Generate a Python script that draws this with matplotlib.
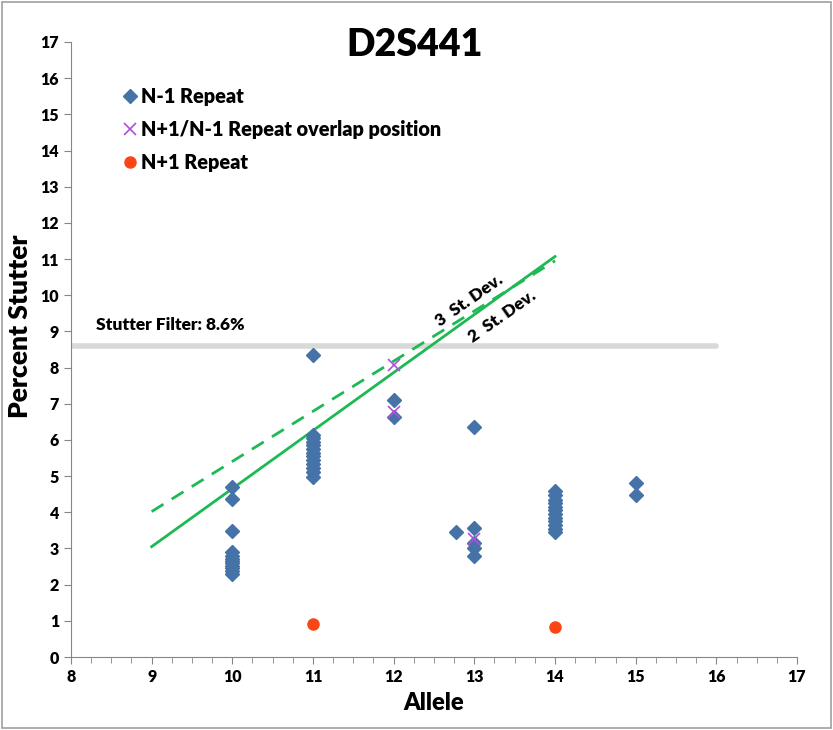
import numpy as np
import matplotlib.pyplot as plt
import matplotlib.ticker as ticker
from matplotlib.patches import Rectangle

plt.rcParams.update({'font.family': ['Lato', 'DejaVu Sans']})
plt.rcParams.update({'font.weight': 'bold'})

# N-1 stutter observations (allele, percent stutter)
n1_allele = [10]*3 + [10]*9 + [11] + [11]*12 + [12, 12] + [12.77] + [13]*5 + [14]*12 + [15, 15]
n1_stutter = [4.7, 4.37, 3.48,
              2.3, 2.38, 2.45, 2.52, 2.6, 2.66, 2.72, 2.8, 2.9,
              8.35,
              4.98, 5.1, 5.22, 5.33, 5.45, 5.55, 5.65, 5.75, 5.85, 5.95, 6.05, 6.14,
              7.1, 6.63,
              3.46,
              6.36, 3.56, 3.15, 3.0, 2.78,
              3.45, 3.55, 3.65, 3.75, 3.85, 3.95, 4.05, 4.15, 4.25, 4.35, 4.47, 4.6,
              4.8, 4.47]

# overlap positions
ov_allele = [12, 12, 13]
ov_stutter = [8.07, 6.77, 3.25]

# N+1 stutter
np1_allele = [11, 14]
np1_stutter = [0.92, 0.82]

# standard deviation lines
sd_x = [9, 14]
sd2_y = [3.05, 11.07]
sd3_y = [4.02, 10.95]

filter_x = [8, 16]
filter_pct = 8.6


def plot_stutter():
  fig = plt.figure(figsize=(8.33, 7.3), dpi=100)
  ax = fig.add_axes([0.0852, 0.1, 0.8716, 0.8425])

  ax.plot(filter_x, [filter_pct]*2, color='#d9d9d9', linewidth=4, solid_capstyle='round', zorder=1)
  ax.plot(sd_x, sd3_y, color='#1db954', linewidth=2, linestyle=(0, (5, 3.5)), zorder=2)
  ax.plot(sd_x, sd2_y, color='#1db954', linewidth=2, zorder=2)

  ax.plot(n1_allele, n1_stutter, linestyle='none', marker='D', markersize=7,
          color='#4572a7', label='N-1 Repeat', zorder=3)
  ax.plot(ov_allele, ov_stutter, linestyle='none', marker='x', markersize=9,
          markeredgewidth=1.2, color='#b04fd8', label='N+1/N-1 Repeat overlap position', zorder=4)
  ax.plot(np1_allele, np1_stutter, linestyle='none', marker='o', markersize=8,
          color='#fa4616', label='N+1 Repeat', zorder=3)

  ax.text(8.31, 9.05, 'Stutter Filter: 8.6%', fontsize=12.5, fontweight='heavy')
  ax.text(12.94, 9.86, '3  St. Dev.', fontsize=12.5, fontweight='heavy', rotation=35,
          ha='center', va='center', rotation_mode='anchor')
  ax.text(13.35, 9.42, '2  St. Dev.', fontsize=12.5, fontweight='heavy', rotation=35,
          ha='center', va='center', rotation_mode='anchor')

  ax.set_xlim(8, 17)
  ax.set_ylim(0, 17)
  ax.xaxis.set_major_locator(ticker.MultipleLocator(1))
  ax.xaxis.set_minor_locator(ticker.MultipleLocator(0.25))
  ax.yaxis.set_major_locator(ticker.MultipleLocator(1))
  ax.tick_params(axis='both', which='both', direction='out', color='#868686', labelsize=11.5)
  ax.tick_params(axis='both', which='major', length=5)
  ax.tick_params(axis='x', which='minor', length=4)
  for lbl in ax.get_xticklabels() + ax.get_yticklabels():
    lbl.set_fontweight('heavy')
  for side in ['top', 'right']:
    ax.spines[side].set_visible(False)
  for side in ['left', 'bottom']:
    ax.spines[side].set_color('#868686')

  ax.set_xlabel('Allele', fontsize=17, fontweight='heavy', labelpad=5)
  ax.set_ylabel('Percent Stutter', fontsize=19, fontweight='heavy')
  ax.yaxis.set_label_coords(-0.053, 0.537)
  fig.text(415/833, 1 - 45/730, 'D2S441', fontsize=27, fontweight='heavy',
           ha='center', va='center')

  ax.legend(loc='upper left', bbox_to_anchor=(0.056, 0.94), frameon=False,
            prop={'size': 14.3, 'weight': 'heavy'},
            handletextpad=0.1, handlelength=1.0, labelspacing=0.72, borderaxespad=0)

  fig.patches.append(Rectangle((0.002, 0.003), 0.996, 0.994, transform=fig.transFigure,
                               fill=False, edgecolor='#a0a0a0', linewidth=1.2))

  plt.savefig('out.png', dpi=100)


if __name__ == '__main__':
  plot_stutter()
